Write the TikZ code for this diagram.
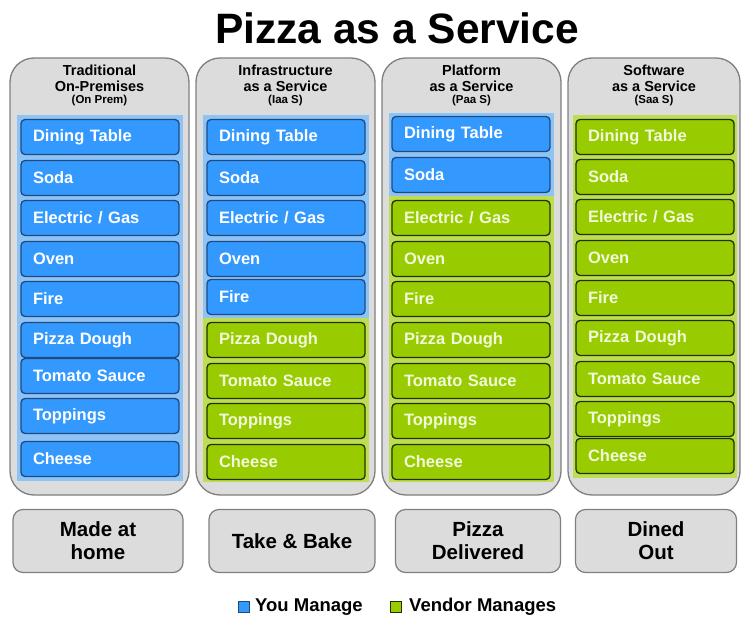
\documentclass[tikz,border=0pt]{standalone}
\usepackage{fontspec}
\setmainfont{Liberation Sans}
\definecolor{pblue}{HTML}{3399FF}
\definecolor{pbluedark}{HTML}{1F4A80}
\definecolor{pblueband}{HTML}{8EC4F5}
\definecolor{pgreen}{HTML}{99CC00}
\definecolor{pgreendark}{HTML}{1E3300}
\definecolor{pgreenband}{HTML}{BEDD55}
\definecolor{pgreentext}{HTML}{F2F8DC}
\definecolor{colfill}{HTML}{DCDCDC}
\definecolor{coledge}{HTML}{7F7F7F}
\tikzset{
  colbox/.style={draw=coledge, line width=1.3pt, fill=colfill, rounded corners=24pt, inner sep=0pt},
  itembase/.style={rounded corners=4pt, line width=1.3pt, minimum height=35pt, text width=134pt, inner xsep=12pt, inner ysep=0pt, align=left, font=\bfseries\fontsize{16.5}{18}\selectfont},
  bluebox/.style={itembase, draw=pbluedark, fill=pblue, text=white},
  greenbox/.style={itembase, draw=pgreendark, fill=pgreen, text=pgreentext},
  headtxt/.style={align=center, font=\bfseries\fontsize{14.5}{15.5}\selectfont, inner sep=0pt},
  subtxt/.style={font=\bfseries\fontsize{11.5}{12}\selectfont, inner sep=0pt},
  bottombox/.style={draw=coledge, line width=1.2pt, fill=colfill, rounded corners=10pt, minimum height=63pt, align=center, font=\bfseries\fontsize{20.5}{23}\selectfont, inner sep=0pt},
  legendsq/.style={minimum size=11pt, inner sep=0pt, line width=0.8pt},
  legendtxt/.style={anchor=west, inner sep=0pt, font=\bfseries\fontsize{18.5}{20}\selectfont}
}
\begin{document}
\begin{tikzpicture}[x=1pt,y=-1pt]
\useasboundingbox (0,0) rectangle (742,618);
% title
\node[inner sep=0pt, font=\bfseries\fontsize{42.5}{46}\selectfont] (title) at (397,28) {Pizza as a Service};
% columns
\node[colbox, minimum width=179pt, minimum height=437pt] (col1) at (99.5,276.5) {};
\node[colbox, minimum width=179pt, minimum height=437pt] (col2) at (285.5,276.5) {};
\node[colbox, minimum width=179pt, minimum height=437pt] (col3) at (471.5,276.5) {};
\node[colbox, minimum width=172pt, minimum height=437pt] (col4) at (654,276.5) {};
% headers
\node[headtxt] (h1) at (99.5,78.5) {Traditional\\On-Premises};
\node[subtxt] (s1) at (99.5,101) {(On Prem)};
\node[headtxt] (h2) at (285.5,78.5) {Infrastructure\\as a Service};
\node[subtxt] (s2) at (285.5,101) {(Iaa S)};
\node[headtxt] (h3) at (471.5,78.5) {Platform\\as a Service};
\node[subtxt] (s3) at (471.5,101) {(Paa S)};
\node[headtxt] (h4) at (654,78.5) {Software\\as a Service};
\node[subtxt] (s4) at (654,101) {(Saa S)};
% bands
\fill[pblueband] (17,115) rectangle (183,481);
\fill[pblueband] (203,115) rectangle (369,318);
\fill[pgreenband] (203,318) rectangle (369,482);
\fill[pblueband] (389,113) rectangle (554,196);
\fill[pgreenband] (389,196) rectangle (554,482);
\fill[pgreenband] (573,115) rectangle (737,478);
% column 1
\node[bluebox] (c1r1) at (100,137) {Dining Table};
\node[bluebox] (c1r2) at (100,178) {Soda};
\node[bluebox] (c1r3) at (100,218) {Electric / Gas};
\node[bluebox] (c1r4) at (100,259) {Oven};
\node[bluebox] (c1r5) at (100,299) {Fire};
\node[bluebox] (c1r6) at (100,340) {Pizza Dough};
\node[bluebox] (c1r7) at (100,376) {Tomato Sauce};
\node[bluebox] (c1r8) at (100,416) {Toppings};
\node[bluebox] (c1r9) at (100,459) {Cheese};
% column 2
\node[bluebox] (c2r1) at (286,137) {Dining Table};
\node[bluebox] (c2r2) at (286,178) {Soda};
\node[bluebox] (c2r3) at (286,218) {Electric / Gas};
\node[bluebox] (c2r4) at (286,259) {Oven};
\node[bluebox] (c2r5) at (286,297) {Fire};
\node[greenbox] (c2r6) at (286,340) {Pizza Dough};
\node[greenbox] (c2r7) at (286,381) {Tomato Sauce};
\node[greenbox] (c2r8) at (286,421) {Toppings};
\node[greenbox] (c2r9) at (286,462) {Cheese};
% column 3
\node[bluebox] (c3r1) at (471,134) {Dining Table};
\node[bluebox] (c3r2) at (471,175) {Soda};
\node[greenbox] (c3r3) at (471,218) {Electric / Gas};
\node[greenbox] (c3r4) at (471,259) {Oven};
\node[greenbox] (c3r5) at (471,299) {Fire};
\node[greenbox] (c3r6) at (471,340) {Pizza Dough};
\node[greenbox] (c3r7) at (471,381) {Tomato Sauce};
\node[greenbox] (c3r8) at (471,421) {Toppings};
\node[greenbox] (c3r9) at (471,462) {Cheese};
% column 4
\node[greenbox] (c4r1) at (655,137) {Dining Table};
\node[greenbox] (c4r2) at (655,177) {Soda};
\node[greenbox] (c4r3) at (655,217) {Electric / Gas};
\node[greenbox] (c4r4) at (655,258) {Oven};
\node[greenbox] (c4r5) at (655,298) {Fire};
\node[greenbox] (c4r6) at (655,338) {Pizza Dough};
\node[greenbox] (c4r7) at (655,379) {Tomato Sauce};
\node[greenbox] (c4r8) at (655,419) {Toppings};
\node[greenbox] (c4r9) at (655,456) {Cheese};
% bottom boxes
\node[bottombox, minimum width=170pt] (b1) at (98,541) {Made at\\home};
\node[bottombox, minimum width=166pt] (b2) at (292,541) {Take \& Bake};
\node[bottombox, minimum width=165pt] (b3) at (478,541) {Pizza\\Delivered};
\node[bottombox, minimum width=161pt] (b4) at (656,541) {Dined\\Out};
% legend
\node[legendsq, draw=pbluedark, fill=pblue] (lq1) at (244,607) {};
\node[legendtxt] (lt1) at (255,607) {You Manage};
\node[legendsq, draw=pgreendark, fill=pgreen] (lq2) at (396,607) {};
\node[legendtxt] (lt2) at (409,607) {Vendor Manages};
\end{tikzpicture}
\end{document}
